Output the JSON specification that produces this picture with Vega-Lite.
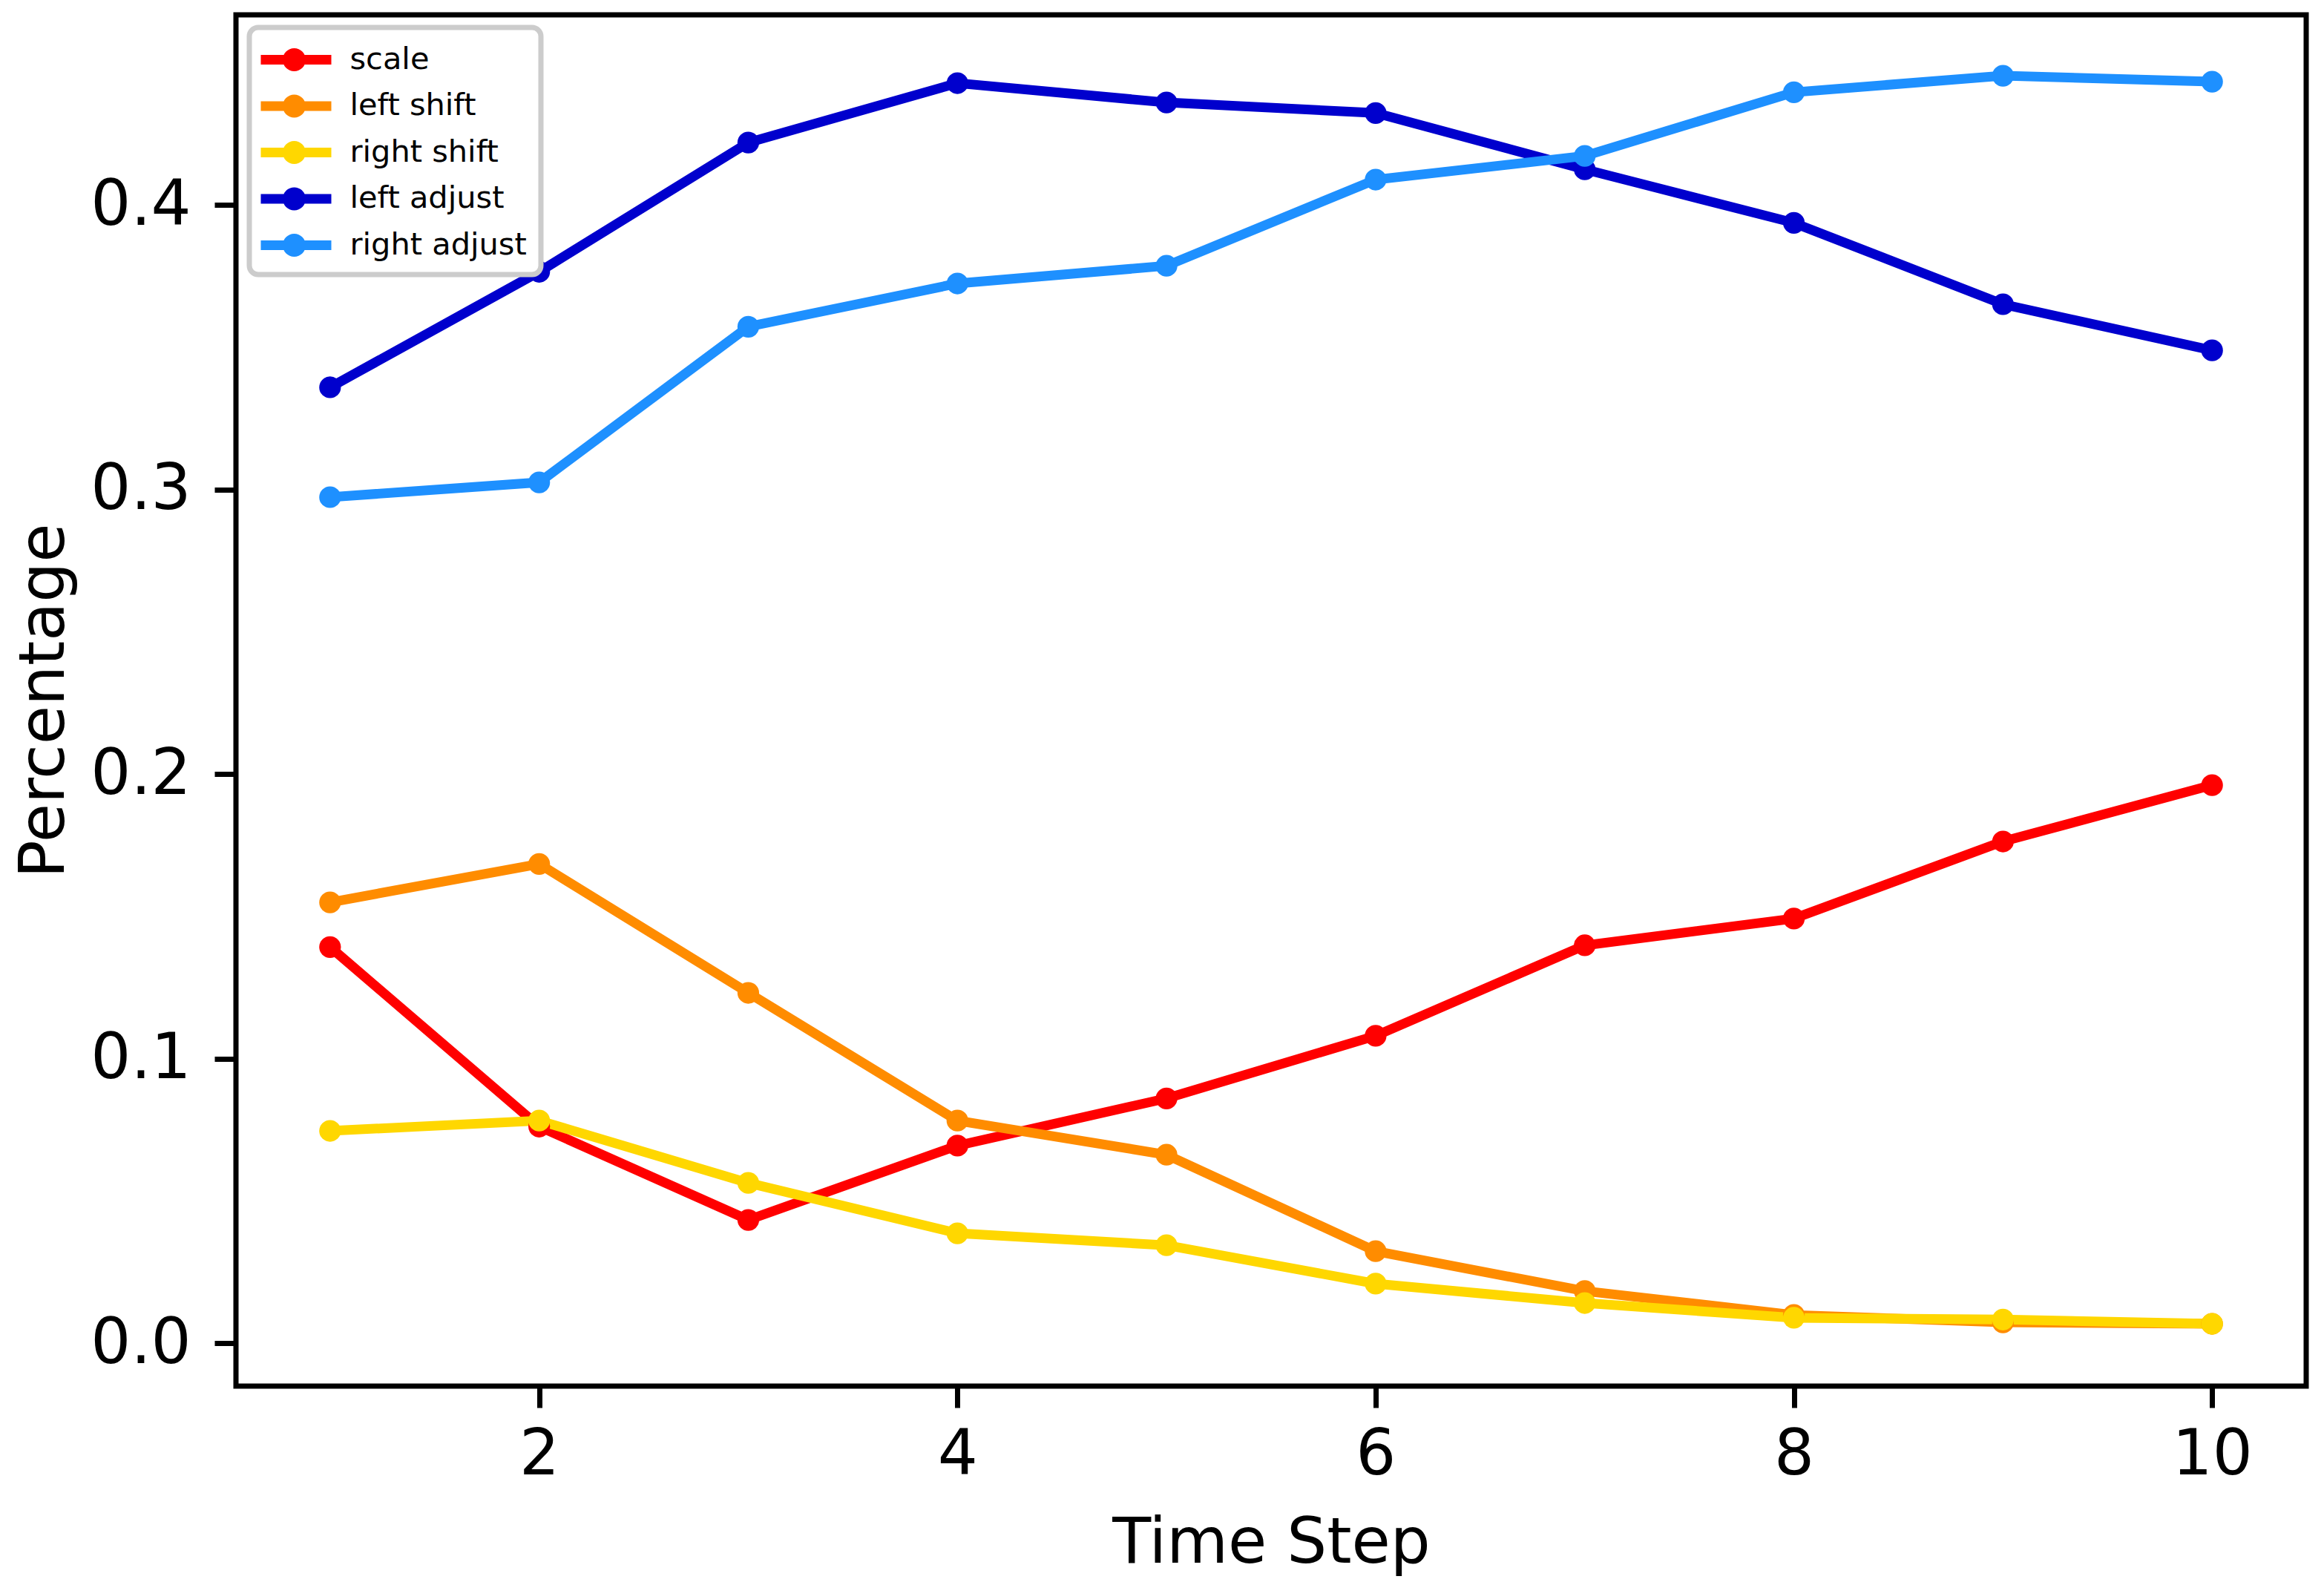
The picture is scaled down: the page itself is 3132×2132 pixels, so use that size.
{
  "$schema": "https://vega.github.io/schema/vega-lite/v6.json",
  "autosize": {"type": "none"},
  "padding": {"left": 318, "top": 20, "right": 24, "bottom": 264},
  "width": 2790,
  "height": 1848,
  "background": "white",
  "config": {
    "font": "DejaVu Sans",
    "view": {"stroke": "black", "strokeWidth": 7},
    "axis": {
      "domain": false,
      "grid": false,
      "ticks": true,
      "tickColor": "black",
      "tickWidth": 7,
      "tickSize": 29,
      "labelFont": "DejaVu Sans",
      "labelFontSize": 85,
      "labelColor": "black",
      "titleFont": "DejaVu Sans",
      "titleFontSize": 85,
      "titleFontWeight": "normal",
      "titleColor": "black"
    }
  },
  "data": {
    "values": [
      {"step": 1, "series": "scale", "value": 0.1392},
      {"step": 2, "series": "scale", "value": 0.0761},
      {"step": 3, "series": "scale", "value": 0.0433},
      {"step": 4, "series": "scale", "value": 0.0694},
      {"step": 5, "series": "scale", "value": 0.0860},
      {"step": 6, "series": "scale", "value": 0.1080},
      {"step": 7, "series": "scale", "value": 0.1398},
      {"step": 8, "series": "scale", "value": 0.1492},
      {"step": 9, "series": "scale", "value": 0.1763},
      {"step": 10, "series": "scale", "value": 0.1961},
      {"step": 1, "series": "left shift", "value": 0.1549},
      {"step": 2, "series": "left shift", "value": 0.1684},
      {"step": 3, "series": "left shift", "value": 0.1231},
      {"step": 4, "series": "left shift", "value": 0.0782},
      {"step": 5, "series": "left shift", "value": 0.0662},
      {"step": 6, "series": "left shift", "value": 0.0323},
      {"step": 7, "series": "left shift", "value": 0.0183},
      {"step": 8, "series": "left shift", "value": 0.0099},
      {"step": 9, "series": "left shift", "value": 0.0073},
      {"step": 10, "series": "left shift", "value": 0.0068},
      {"step": 1, "series": "right shift", "value": 0.0746},
      {"step": 2, "series": "right shift", "value": 0.0782},
      {"step": 3, "series": "right shift", "value": 0.0563},
      {"step": 4, "series": "right shift", "value": 0.0386},
      {"step": 5, "series": "right shift", "value": 0.0344},
      {"step": 6, "series": "right shift", "value": 0.0209},
      {"step": 7, "series": "right shift", "value": 0.0141},
      {"step": 8, "series": "right shift", "value": 0.0089},
      {"step": 9, "series": "right shift", "value": 0.0083},
      {"step": 10, "series": "right shift", "value": 0.0068},
      {"step": 1, "series": "left adjust", "value": 0.3359},
      {"step": 2, "series": "left adjust", "value": 0.3765},
      {"step": 3, "series": "left adjust", "value": 0.4219},
      {"step": 4, "series": "left adjust", "value": 0.4428},
      {"step": 5, "series": "left adjust", "value": 0.4360},
      {"step": 6, "series": "left adjust", "value": 0.4323},
      {"step": 7, "series": "left adjust", "value": 0.4125},
      {"step": 8, "series": "left adjust", "value": 0.3937},
      {"step": 9, "series": "left adjust", "value": 0.3651},
      {"step": 10, "series": "left adjust", "value": 0.3489},
      {"step": 1, "series": "right adjust", "value": 0.2973},
      {"step": 2, "series": "right adjust", "value": 0.3025},
      {"step": 3, "series": "right adjust", "value": 0.3572},
      {"step": 4, "series": "right adjust", "value": 0.3724},
      {"step": 5, "series": "right adjust", "value": 0.3786},
      {"step": 6, "series": "right adjust", "value": 0.4089},
      {"step": 7, "series": "right adjust", "value": 0.4172},
      {"step": 8, "series": "right adjust", "value": 0.4396},
      {"step": 9, "series": "right adjust", "value": 0.4454},
      {"step": 10, "series": "right adjust", "value": 0.4433}
    ]
  },
  "encoding": {
    "x": {
      "field": "step",
      "type": "quantitative",
      "title": "Time Step",
      "scale": {"domain": [0.55, 10.45], "nice": false, "zero": false},
      "axis": {
        "values": [2, 4, 6, 8, 10],
        "labelPadding": 22,
        "titleY": 237,
        "titleBaseline": "alphabetic"
      }
    },
    "y": {
      "field": "value",
      "type": "quantitative",
      "title": "Percentage",
      "scale": {"domain": [-0.0151, 0.4668], "nice": false, "zero": false},
      "axis": {
        "values": [0, 0.1, 0.2, 0.3, 0.4],
        "format": ".1f",
        "labelPadding": 32,
        "titleX": -233,
        "titleBaseline": "alphabetic"
      }
    },
    "color": {
      "field": "series",
      "type": "nominal",
      "sort": ["scale", "left shift", "right shift", "left adjust", "right adjust"],
      "scale": {
        "domain": ["scale", "left shift", "right shift", "left adjust", "right adjust"],
        "range": ["#ff0000", "#ff8c00", "#ffd700", "#0000cd", "#1e90ff"]
      },
      "legend": {
        "title": null,
        "orient": "none",
        "legendX": 18,
        "legendY": 17,
        "padding": 18.5,
        "fillColor": "white",
        "strokeColor": "#cccccc",
        "cornerRadius": 12,
        "symbolType": "M-1.12,-0.26H2.68V0.26H-1.12Z M0.06,0A0.62,0.62 0 1,1 1.3,0A0.62,0.62 0 1,1 0.06,0Z",
        "symbolSize": 2500,
        "symbolStrokeWidth": 0,
        "symbolOpacity": 1,
        "labelFont": "DejaVu Sans",
        "labelFontSize": 41.5,
        "labelColor": "black",
        "labelOffset": 67,
        "rowPadding": 16.5,
        "labelLimit": 1000,
        "encode": {
          "legend": {
            "update": {
              "stroke": {"value": "#cccccc"},
              "strokeWidth": {"value": 7}
            }
          },
          "symbols": {
            "update": {
              "fill": {"scale": "color", "field": "value"},
              "stroke": {"value": "transparent"},
              "opacity": {"value": 1},
              "fillOpacity": {"value": 1}
            }
          }
        }
      }
    }
  },
  "layer": [
    {
      "mark": {"type": "line", "strokeWidth": 13}
    },
    {
      "mark": {"type": "circle", "size": 855, "opacity": 1}
    }
  ]
}
